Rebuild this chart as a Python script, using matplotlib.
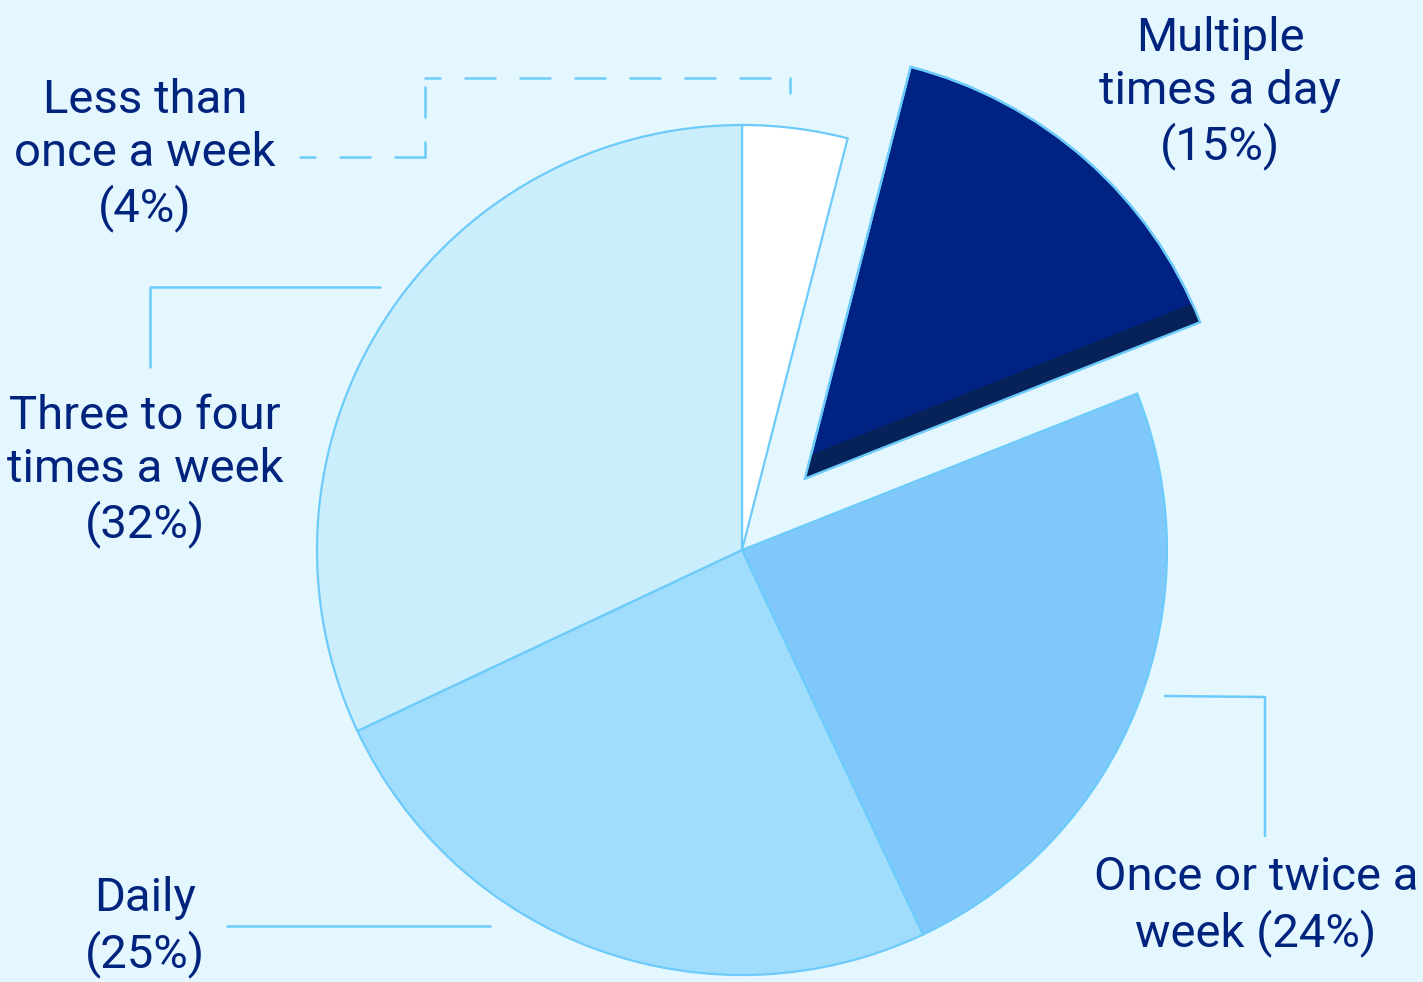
import numpy as np
import matplotlib
matplotlib.use("Agg")
import matplotlib.pyplot as plt
from matplotlib.patches import Polygon, Wedge

# datos del gráfico
categorias = ["Less than once a week", "Multiple times a day", "Once or twice a week",
              "Daily", "Three to four times a week"]
porcentajes = [4, 15, 24, 25, 32]
etiquetas = ["Less than\nonce a week\n(4%)", "Multiple\ntimes a day\n(15%)",
             "Once or twice a\nweek (24%)", "Daily\n(25%)", "Three to four\ntimes a week\n(32%)"]
colores = ["#ffffff", "#002282", "#80c8fa", "#a0dcfc", "#cbeefd"]
separacion = [0, 0.224, 0, 0, 0]

fondo = "#e4f6fe"
borde = "#6dcbfb"
texto = "#00237d"

W, H = 1423, 982
fig = plt.figure(figsize=(W / 100, H / 100), dpi=100, facecolor=fondo)
ax = fig.add_axes([0, 0, 1, 1])
ax.set_facecolor(fondo)

radio = 425
centro = (742, H - 550)

# matplotlib no escala explode por el radio, lo hacemos aquí
cunas, _ = ax.pie(porcentajes, colors=colores, explode=[e * radio for e in separacion],
                  startangle=90, counterclock=False, radius=radio, center=centro, frame=True,
                  wedgeprops=dict(edgecolor=borde, linewidth=1.6))
ax.set_xlim(0, W)
ax.set_ylim(0, H)
ax.set_aspect("equal")
ax.axis("off")

# banda oscura en la porción separada
cuna = cunas[1]
ang = np.deg2rad(cuna.theta1)
cx, cy = cuna.center
u = np.array([np.cos(ang), np.sin(ang)])
n = np.array([-np.sin(ang), np.cos(ang)])
p0 = np.array([cx, cy])
ancho = 20
banda = Polygon([p0 - n * 5 - u * 10, p0 + u * radio * 1.1 - n * 5,
                 p0 + u * radio * 1.1 + n * ancho, p0 + n * ancho - u * 10],
                closed=True, facecolor="#062258", edgecolor="none", zorder=cuna.get_zorder() + 0.1)
ax.add_patch(banda)
banda.set_clip_path(cuna)
ax.add_patch(Wedge(cuna.center, cuna.r, cuna.theta1, cuna.theta2, fill=False,
                   edgecolor=borde, linewidth=1.6, zorder=cuna.get_zorder() + 0.2))

# etiquetas
fuente = dict(family=["Roboto", "DejaVu Sans"], fontsize=34, color=texto,
              ha="center", va="center", linespacing=1.26)
posiciones = [(145, 155), (1220, 93), (1256, 906), (145, 927), (145, 471)]
for txt, (x, y) in zip(etiquetas, posiciones):
    ax.text(x, H - y, txt, **fuente)

# líneas guía
def guia(xs, ys, **kw):
    ax.plot(xs, [H - y for y in ys], color=borde, linewidth=1.8,
            solid_capstyle="round", dash_capstyle="round", **kw)

# línea discontinua: cada tramo arranca con medio trazo en la esquina
puntos = [(300, 157), (425, 157), (425, 78), (790, 78), (790, 112)]
for (x0, y0), (x1, y1) in zip(puntos[:-1], puntos[1:]):
    guia([x0, x1], [y0, y1], linestyle=(6, (12, 10)))
guia([150, 150, 380], [367, 287, 287])
guia([227, 490], [926, 926])
guia([1165, 1265, 1265], [696, 697, 836])

fig.savefig("out.png", dpi=100, facecolor=fondo)
